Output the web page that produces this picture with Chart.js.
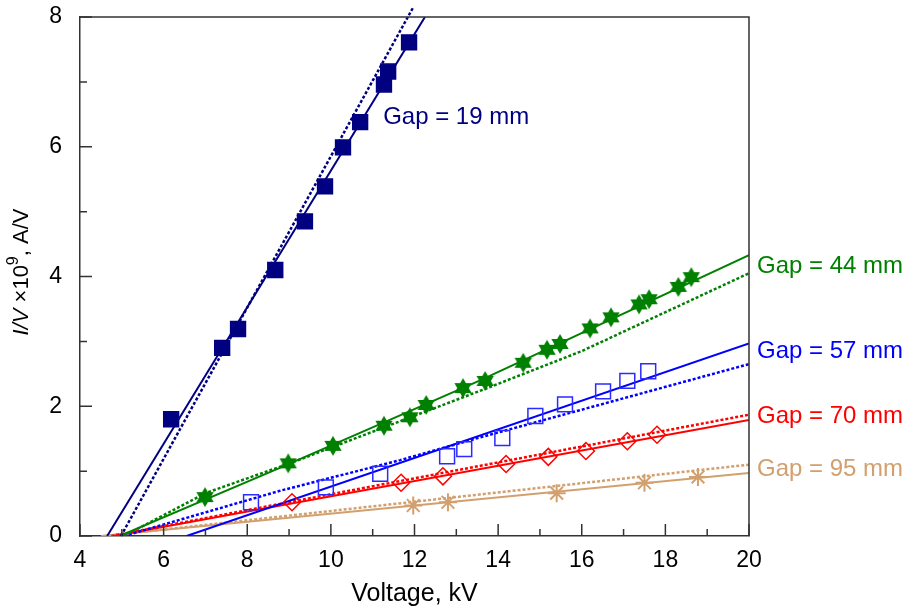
<!DOCTYPE html>
<html>
<head>
<meta charset="utf-8">
<script src="https://cdn.jsdelivr.net/npm/chart.js@4/dist/chart.umd.min.js"></script>
<style>
  html, body { margin: 0; padding: 0; background: #fff; }
  canvas { display: block; }
</style>
</head>
<body>
<canvas id="chart" width="904" height="609"></canvas>
<script>
// measured points (voltage kV, I/V x1e9)
const gap19V = [6.18, 7.40, 7.78, 8.67, 9.38, 9.86, 10.29, 10.70, 11.27, 11.37, 11.87];
const gap19I = [1.80, 2.90, 3.19, 4.10, 4.85, 5.39, 5.99, 6.38, 6.96, 7.16, 7.61];
const gap44V = [6.99, 8.98, 10.05, 11.27, 11.89, 12.28, 13.16, 13.69, 14.60, 15.17, 15.48, 16.20, 16.70, 17.37, 17.61, 18.31, 18.62];
const gap44I = [0.60, 1.12, 1.39, 1.70, 1.83, 2.02, 2.28, 2.39, 2.67, 2.87, 2.96, 3.20, 3.37, 3.57, 3.65, 3.84, 3.99];
const gap57V = [8.09, 9.88, 11.18, 12.78, 13.19, 14.10, 14.89, 15.60, 16.51, 17.09, 17.59];
const gap57I = [0.52, 0.75, 0.96, 1.23, 1.34, 1.51, 1.85, 2.03, 2.23, 2.39, 2.54];
const gap70V = [9.07, 11.68, 12.68, 14.19, 15.20, 16.10, 17.09, 17.80];
const gap70I = [0.52, 0.82, 0.92, 1.11, 1.22, 1.31, 1.46, 1.56];
const gap95V = [11.97, 12.80, 15.40, 17.50, 18.78];
const gap95I = [0.47, 0.52, 0.66, 0.82, 0.91];

// fitted lines (solid)
const fit19V = [4.65, 12.25], fit19I = [0, 8];
const fit44V = [4.95, 8.78, 13.57, 20], fit44I = [0, 1.05, 2.40, 4.33];
const fit57V = [6.55, 20], fit57I = [0, 2.97];
const fit70V = [4.8, 20], fit70I = [0, 1.79];
const fit95V = [4.5, 20], fit95I = [0, 0.97];

// model curves (dotted)
const model19V = [4.98, 11.97], model19I = [0, 8.15];
const model44V = [5.05, 7.0, 9.1, 11.7, 13.7, 16.0, 20], model44I = [0, 0.66, 1.14, 1.78, 2.27, 2.85, 4.05];
const model57V = [5.05, 8.8, 11.66, 13.57, 20], model57I = [0, 0.70, 1.17, 1.52, 2.65];
const model70V = [4.75, 20], model70I = [0, 1.87];
const model95V = [4.6, 20], model95I = [0, 1.10];

const gapLabels = ['Gap = 19 mm', 'Gap = 44 mm', 'Gap = 57 mm', 'Gap = 70 mm', 'Gap = 95 mm'];
const labelV = [11.25, 20, 20, 20, 20];
const labelI = [6.46, 4.16, 2.84, 1.84, 1.02];

const xTicks = [4, 6, 8, 10, 12, 14, 16, 18, 20];
const yTicks = [0, 2, 4, 6, 8];

const NAVY = '#000080', GREEN = '#008000', BLUE = '#0000ff', RED = '#ff0000', TAN = '#d2a06e';
const FONT = '"Liberation Sans", Arial, sans-serif';

const pts = (xs, ys) => xs.map((x, i) => ({ x: x, y: ys[i] }));

// six-point star marker for the 44 mm series
function hexagram(color, r) {
  const c = document.createElement('canvas');
  c.width = c.height = Math.ceil(r * 2 + 2);
  const g = c.getContext('2d');
  const m = c.width / 2;
  g.fillStyle = color;
  for (let t = 0; t < 2; t++) {
    g.beginPath();
    for (let k = 0; k < 3; k++) {
      const a = -Math.PI / 2 + t * Math.PI + k * 2 * Math.PI / 3;
      const px = m + r * Math.cos(a), py = m + r * Math.sin(a);
      k ? g.lineTo(px, py) : g.moveTo(px, py);
    }
    g.closePath();
    g.fill();
  }
  return c;
}

function lineSet(xs, ys, color, dotted, extra) {
  return Object.assign({
    data: pts(xs, ys),
    showLine: true,
    borderColor: color,
    borderWidth: dotted ? 2.5 : 2,
    borderDash: dotted ? [3, 2] : [],
    pointRadius: 0,
    tension: 0,
    order: 2
  }, extra || {});
}

function markSet(xs, ys, style, color, fill, radius, bw) {
  return {
    data: pts(xs, ys),
    showLine: false,
    pointStyle: style,
    pointRadius: radius,
    borderColor: color,
    backgroundColor: fill,
    pointBorderWidth: bw || 1.5,
    order: 1
  };
}

const decor = {
  id: 'decor',
  afterDraw(chart) {
    const { ctx, chartArea: a, scales: { x, y } } = chart;
    ctx.save();
    // frame top and right
    ctx.strokeStyle = '#333';
    ctx.lineWidth = 1.5;
    ctx.beginPath();
    ctx.moveTo(a.left, a.top); ctx.lineTo(a.right, a.top); ctx.lineTo(a.right, a.bottom);
    ctx.stroke();
    // inside tick marks
    ctx.beginPath();
    for (let v = 4; v <= 20; v++) {
      const px = x.getPixelForValue(v);
      const len = v % 2 === 0 ? 12 : 7;
      ctx.moveTo(px, a.bottom); ctx.lineTo(px, a.bottom - len);
    }
    for (let v = 0; v <= 8; v++) {
      const py = y.getPixelForValue(v);
      const len = v % 2 === 0 ? 12 : 7;
      ctx.moveTo(a.left, py); ctx.lineTo(a.left + len, py);
    }
    ctx.stroke();

    // gap labels
    const cols = [NAVY, GREEN, BLUE, RED, TAN];
    ctx.font = '24px ' + FONT;
    ctx.textBaseline = 'middle';
    ctx.textAlign = 'left';
    gapLabels.forEach((t, i) => {
      ctx.fillStyle = cols[i];
      const off = i === 0 ? 0 : 8;
      ctx.fillText(t, x.getPixelForValue(labelV[i]) + off, y.getPixelForValue(labelI[i]));
    });

    // y axis title
    ctx.fillStyle = '#000';
    ctx.translate(22, 272);
    ctx.rotate(-Math.PI / 2);
    const parts = [
      { t: 'I/V', f: 'italic 22px ' + FONT, dy: 0 },
      { t: ' \u00d710', f: '22px ' + FONT, dy: 0 },
      { t: '9', f: '16px ' + FONT, dy: -8 },
      { t: ', A/V', f: '22px ' + FONT, dy: 0 }
    ];
    let total = 0;
    parts.forEach(p => { ctx.font = p.f; p.w = ctx.measureText(p.t).width; total += p.w; });
    let cx = -total / 2;
    parts.forEach(p => { ctx.font = p.f; ctx.fillText(p.t, cx, p.dy); cx += p.w; });
    ctx.restore();

    // x axis title
    ctx.save();
    ctx.fillStyle = '#000';
    ctx.font = '25px ' + FONT;
    ctx.textAlign = 'center';
    ctx.textBaseline = 'middle';
    ctx.fillText('Voltage, kV', (a.left + a.right) / 2, 594);
    ctx.restore();
  }
};

new Chart(document.getElementById('chart'), {
  type: 'scatter',
  data: {
    datasets: [
      lineSet(fit19V, fit19I, NAVY, false),
      lineSet(model19V, model19I, NAVY, true, { clip: false }),
      lineSet(fit44V, fit44I, GREEN, false),
      lineSet(model44V, model44I, GREEN, true),
      lineSet(fit57V, fit57I, BLUE, false),
      lineSet(model57V, model57I, BLUE, true),
      lineSet(fit70V, fit70I, RED, false),
      lineSet(model70V, model70I, RED, true),
      lineSet(fit95V, fit95I, TAN, false),
      lineSet(model95V, model95I, TAN, true),
      markSet(gap19V, gap19I, 'rect', NAVY, NAVY, 10.5),
      markSet(gap44V, gap44I, hexagram(GREEN, 10), GREEN, GREEN, 9),
      markSet(gap57V, gap57I, 'rect', '#2b2bff', 'rgba(0,0,0,0)', 10.5),
      markSet(gap70V, gap70I, 'rectRot', RED, 'rgba(0,0,0,0)', 8.5),
      markSet(gap95V, gap95I, 'star', TAN, TAN, 9, 2)
    ]
  },
  options: {
    responsive: false,
    animation: false,
    layout: { padding: { left: 0, top: 17, right: 155, bottom: 0 } },
    plugins: { legend: { display: false }, tooltip: { enabled: false } },
    scales: {
      x: {
        type: 'linear', min: 4, max: 20,
        afterFit: s => { s.height = 73; s.paddingLeft = 0; s.paddingRight = 0; },
        afterBuildTicks: s => { s.ticks = xTicks.map(v => ({ value: v })); },
        ticks: { color: '#000', font: { size: 23, family: FONT }, padding: 11, maxRotation: 0 },
        grid: { display: false, drawTicks: false },
        border: { display: true, color: '#333', width: 1.5 }
      },
      y: {
        type: 'linear', min: 0, max: 8,
        afterFit: s => { s.width = 80; s.paddingTop = 0; s.paddingBottom = 0; },
        afterBuildTicks: s => { s.ticks = yTicks.map(v => ({ value: v })); },
        ticks: { color: '#000', font: { size: 23, family: FONT }, padding: 18 },
        grid: { display: false, drawTicks: false },
        border: { display: true, color: '#333', width: 1.5 }
      }
    }
  },
  plugins: [decor]
});
</script>
</body>
</html>
